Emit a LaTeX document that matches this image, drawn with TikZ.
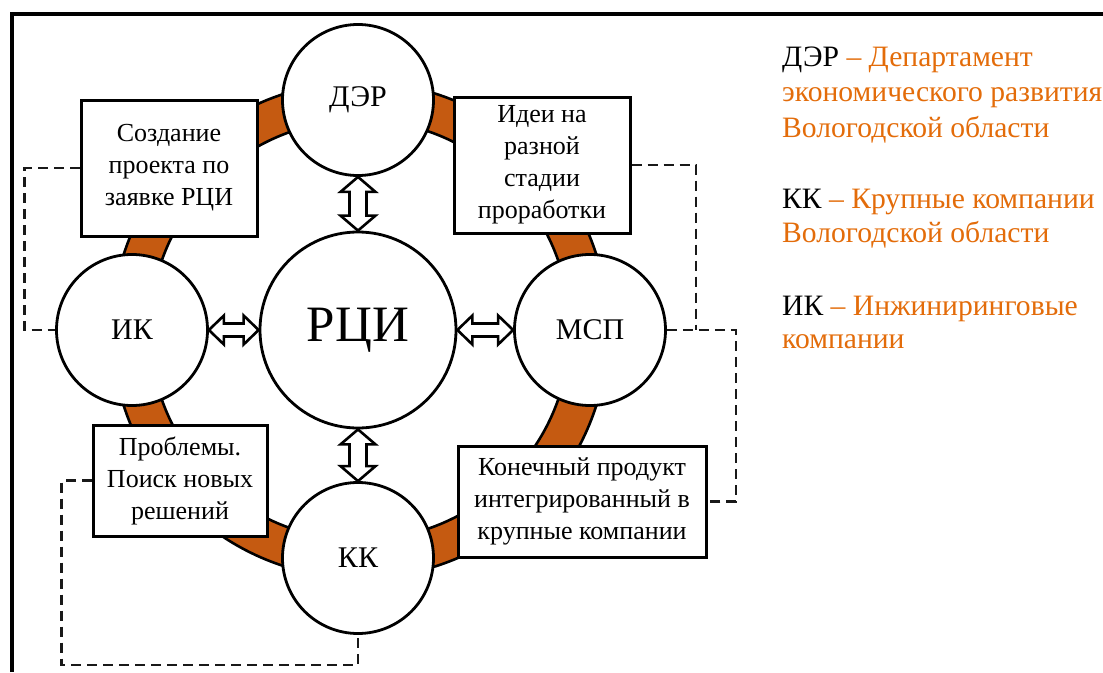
\documentclass[tikz,border=0pt]{standalone}
\usepackage{fontspec}
\setmainfont{Liberation Serif}
\newfontfamily\serifface{LiberationSerif-Regular.ttf}
\usetikzlibrary{calc}
\definecolor{ringorange}{HTML}{C55A11}
\definecolor{legorange}{HTML}{E36C0A}
\newcommand{\vdbl}[2]{\draw[dblarrow] (#1) -- ($(#1)+(17.5,15)$) -- ($(#1)+(8.5,15)$) -- ($(#2)+(8.5,-15)$) -- ($(#2)+(17.5,-15)$) -- (#2) -- ($(#2)+(-17.5,-15)$) -- ($(#2)+(-8.5,-15)$) -- ($(#1)+(-8.5,15)$) -- ($(#1)+(-17.5,15)$) -- cycle;}
\newcommand{\hdbl}[2]{\draw[dblarrow] (#1) -- ($(#1)+(15,-14.5)$) -- ($(#1)+(15,-6.5)$) -- ($(#2)+(-15,-6.5)$) -- ($(#2)+(-15,-14.5)$) -- (#2) -- ($(#2)+(-15,14.5)$) -- ($(#2)+(-15,6.5)$) -- ($(#1)+(15,6.5)$) -- ($(#1)+(15,14.5)$) -- cycle;}
\begin{document}
\begin{tikzpicture}[x=1pt,y=-1pt,
  actor/.style={circle, draw=black, line width=2.8pt, fill=white, inner sep=0pt, minimum size=151pt, font=\fontsize{30}{36}\selectfont\serifface},
  hub/.style={circle, draw=black, line width=2.8pt, fill=white, inner sep=0pt, minimum size=196pt, font=\fontsize{51}{60}\selectfont\serifface},
  infobox/.style={rectangle, draw=black, line width=3pt, fill=white, inner sep=0pt, align=center, font=\fontsize{26}{32}\selectfont\serifface},
  dashlink/.style={draw=black!90, line width=2.6pt, dash pattern=on 10pt off 6pt},
  dblarrow/.style={draw=black, line width=2.6pt, fill=white, line join=miter},
  legend/.style={anchor=base west, inner sep=0pt, font=\fontsize{29.6}{35}\selectfont\serifface},
  frameline/.style={line width=4pt}]
\useasboundingbox (0,0) rectangle (1103,672);
% frame
\draw[frameline] (11.5,672) -- (11.5,13.5) -- (1103,13.5);
% ring
\coordinate (c) at (360,330);
\fill[ringorange, even odd rule] (c) circle [radius=248pt] (c) circle [radius=210pt];
\draw[line width=2.6pt] (c) circle [radius=248pt] (c) circle [radius=210pt];
% circles
\node[hub] (rci) at (358,330) {РЦИ};
\node[actor] (der) at (358,100) {ДЭР};
\node[actor] (ik) at (132,330) {ИК};
\node[actor] (msp) at (590,330) {МСП};
\node[actor] (kk) at (358,558) {КК};
% double arrows
\vdbl{der.south}{rci.north}
\vdbl{rci.south}{kk.north}
\hdbl{ik.east}{rci.west}
\hdbl{rci.east}{msp.west}
% boxes
\node[infobox, minimum width=176pt, minimum height=136pt] (box1) at (169,168) {Создание\\проекта по\\заявке РЦИ};
\node[infobox, minimum width=176pt, minimum height=136pt] (box2) at (542,165) {Идеи на\\разной\\стадии\\проработки};
\node[infobox, minimum width=174pt, minimum height=111pt] (box3) at (180,480.5) {Проблемы.\\Поиск новых\\решений};
\node[infobox, minimum width=248pt, minimum height=111pt] (box4) at (582,501.5) {Конечный продукт\\интегрированный в\\крупные компании};
% dashed links
\draw[dashlink] (box1.west) -- ++(-55,0) |- (ik.west);
\draw[dashlink] (box2.east) -| ($(msp.east)+(29,0)$);
\draw[dashlink] (msp.east) -- ++(69,0) |- (box4.east);
\draw[dashlink] (box3.west) -- ++(-30,0) |- ($(kk.south)+(0,30)$) -- (kk.south);
% legend
\node[legend] (l1) at (782,66) {ДЭР \textcolor{legorange}{– Департамент}};
\node[legend, text=legorange] (l2) at (782,101) {экономического развития};
\node[legend, text=legorange] (l3) at (782,137) {Вологодской области};
\node[legend] (l4) at (782,208) {КК \textcolor{legorange}{– Крупные компании}};
\node[legend, text=legorange] (l5) at (782,242) {Вологодской области};
\node[legend] (l6) at (782,315) {ИК \textcolor{legorange}{– Инжиниринговые}};
\node[legend, text=legorange] (l7) at (782,348) {компании};
\end{tikzpicture}
\end{document}
